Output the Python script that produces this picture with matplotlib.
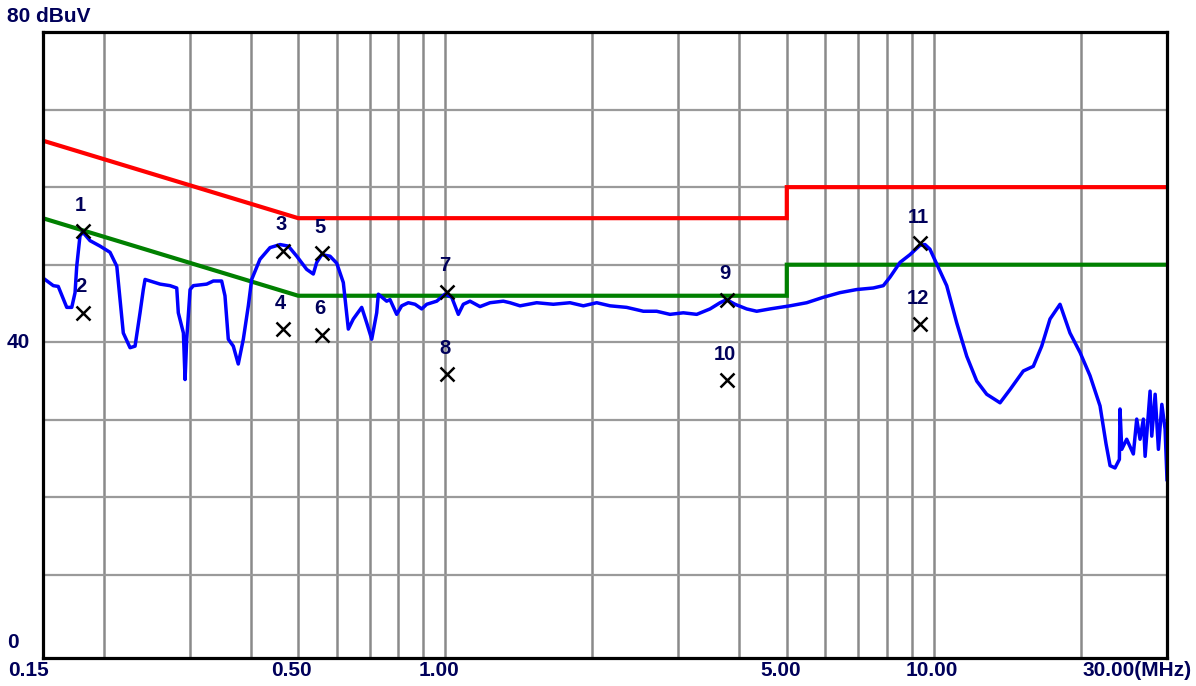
import matplotlib
matplotlib.use("Agg")
import matplotlib.pyplot as plt

# Conducted emission scan, 0.15 - 30 MHz (dBuV)
trace_freq = [
    0.1516, 0.1577, 0.1614, 0.168, 0.172, 0.1747, 0.1761, 0.1788, 0.1812, 0.1875,
    0.1965, 0.206, 0.2127, 0.216, 0.2193, 0.2264, 0.2318, 0.2373, 0.241, 0.243,
    0.2487, 0.2608, 0.2733, 0.2821, 0.2842, 0.2911, 0.2934, 0.2957, 0.3004, 0.3051,
    0.3249, 0.3352, 0.3486, 0.3541, 0.3597, 0.3683, 0.377, 0.3861, 0.3953, 0.4016,
    0.4176, 0.4378, 0.459, 0.4773, 0.4966, 0.5204, 0.5369, 0.5456, 0.5586, 0.5809,
    0.5995, 0.6185, 0.6333, 0.6483, 0.6745, 0.6906, 0.7071, 0.7239, 0.7295, 0.7587,
    0.7707, 0.7954, 0.8143, 0.8402, 0.8672, 0.895, 0.9162, 0.9605, 0.9988, 1.0309,
    1.0635, 1.0887, 1.1236, 1.1779, 1.2348, 1.3145, 1.3567, 1.4223, 1.5386, 1.6638,
    1.8, 1.9169, 2.0415, 2.174, 2.3508, 2.5432, 2.7084, 2.8835, 3.0705, 3.2708,
    3.4823, 3.6506, 3.767, 3.9176, 4.139, 4.3389, 4.6194, 4.8428, 5.0756, 5.4918,
    5.9388, 6.424, 6.9518, 7.5165, 7.88, 8.133, 8.526, 8.936, 9.366, 9.589,
    9.816, 10.133, 10.623, 11.136, 11.675, 12.239, 12.827, 13.659, 14.315, 15.243,
    15.977, 16.622, 17.285, 18.12, 18.99, 19.91, 20.87, 21.88, 22.51, 22.94,
    23.48, 23.97, 24.04, 24.24, 24.81, 25.6, 26.01, 26.42, 26.84, 27.06,
    27.7, 27.92, 28.37, 28.81, 29.28, 29.73, 30.0,
]
trace_level = [
    48.1, 47.3, 47.2, 44.5, 44.5, 46.4, 49.8, 53.7, 54.2, 53.1,
    52.4, 51.6, 49.8, 45.5, 41.2, 39.3, 39.5, 43.8, 46.8, 48.1,
    47.9, 47.5, 47.3, 47.0, 43.8, 41.2, 35.2, 40.4, 46.8, 47.3,
    47.5, 47.9, 47.9, 46.0, 40.4, 39.5, 37.2, 40.4, 44.7, 48.1,
    50.7, 52.2, 52.6, 52.4, 51.1, 49.4, 48.8, 50.3, 51.3, 51.1,
    50.2, 47.7, 41.7, 43.0, 44.5, 42.5, 40.4, 43.8, 46.2, 45.3,
    45.5, 43.6, 44.7, 45.1, 44.9, 44.3, 44.9, 45.3, 46.2, 45.8,
    43.6, 44.9, 45.3, 44.6, 45.1, 45.3, 45.1, 44.7, 45.1, 44.9,
    45.1, 44.7, 45.1, 44.7, 44.5, 44.0, 44.0, 43.6, 43.8, 43.6,
    44.3, 45.1, 45.5, 44.9, 44.3, 44.0, 44.3, 44.5, 44.7, 45.1,
    45.8, 46.4, 46.8, 47.0, 47.3, 48.4, 50.3, 51.3, 52.5, 52.6,
    52.0, 50.1, 47.3, 42.5, 38.2, 35.0, 33.3, 32.2, 33.9, 36.3,
    36.9, 39.5, 43.0, 44.9, 41.2, 38.7, 35.7, 31.8, 26.9, 24.1,
    23.8, 24.9, 31.4, 26.2, 27.5, 25.6, 30.1, 27.5, 30.1, 25.3,
    33.7, 27.9, 33.3, 26.2, 32.0, 28.8, 22.3,
]

# Quasi-peak (red) and average (green) limit lines
qp_freq = [0.15, 0.5, 5.0, 5.0, 30.0]
qp_level = [66, 56, 56, 60, 60]
av_freq = [0.15, 0.5, 5.0, 5.0, 30.0]
av_level = [56, 46, 46, 50, 50]

# Marked readings
marker_ids = ["1", "2", "3", "4", "5", "6", "7", "8", "9", "10", "11", "12"]
marker_freq = [0.1812, 0.1817, 0.4649, 0.4649, 0.5586, 0.5586,
               1.0069, 1.0069, 3.767, 3.767, 9.366, 9.366]
marker_level = [54.3, 43.8, 51.8, 41.7, 51.5, 41.0,
                46.5, 35.9, 45.5, 35.1, 52.8, 42.3]

grid_freq = [0.2, 0.3, 0.4, 0.5, 0.6, 0.7, 0.8, 0.9, 1, 2, 3, 4, 5, 6, 7, 8, 9, 10, 20]
grid_level = [10, 20, 30, 40, 50, 60, 70]

x_labels = ["0.15", "0.50", "1.00", "5.00", "10.00", "30.00(MHz)"]
y_labels = ["80 dBuV", "40", "0"]

W, H = 1196, 686
fig = plt.figure(figsize=(W / 100, H / 100), dpi=100)
fig.patch.set_facecolor("white")
ax = fig.add_axes([42.7 / W, 1 - 658 / H, (1167 - 42.7) / W, (658 - 32) / H])
ax.set_xscale("log")
ax.set_xlim(0.15, 30)
ax.set_ylim(-0.7, 80)

for f in grid_freq:
    ax.axvline(f, color="#8a8a8a", lw=1.8, zorder=1)
for lv in grid_level:
    ax.axhline(lv, color="#9a9a9a", lw=1.6, zorder=1)

ax.set_xticks([])
ax.set_yticks([])
ax.minorticks_off()
for s in ax.spines.values():
    s.set_linewidth(2.3)
    s.set_color("black")
    s.set_zorder(6)

ax.plot(qp_freq, qp_level, color="#ff0000", lw=3.0, zorder=3, solid_joinstyle="miter")
ax.plot(av_freq, av_level, color="#008000", lw=3.0, zorder=3, solid_joinstyle="miter")
ax.plot(trace_freq, trace_level, color="#0000ff", lw=2.5, zorder=4)

ax.plot(marker_freq, marker_level, linestyle="none", marker="x",
        markersize=9.5, mew=1.8, color="black", zorder=5)

txt_color = "#00005a"
font = dict(family=["Liberation Sans", "DejaVu Sans"], weight="bold", color=txt_color)

for mid, f, lv in zip(marker_ids, marker_freq, marker_level):
    ax.annotate(mid, (f, lv), xytext=(-1.5, 18.7), textcoords="offset points",
                ha="center", va="center", fontsize=14.5, zorder=6, **font)


def ftext(x, y, s, ha):
    fig.text(x / W, 1 - y / H, s, ha=ha, va="center", fontsize=15, **font)


ftext(7, 16, y_labels[0], "left")
ftext(7, 342.7, y_labels[1], "left")
ftext(7, 642, y_labels[2], "left")

ftext(8, 670, x_labels[0], "left")
ftext(291, 670, x_labels[1], "center")
ftext(438.5, 670, x_labels[2], "center")
ftext(781, 670, x_labels[3], "center")
ftext(932, 670, x_labels[4], "center")
ftext(1192, 670, x_labels[5], "right")

fig.savefig("out.png", dpi=100, facecolor="white")
